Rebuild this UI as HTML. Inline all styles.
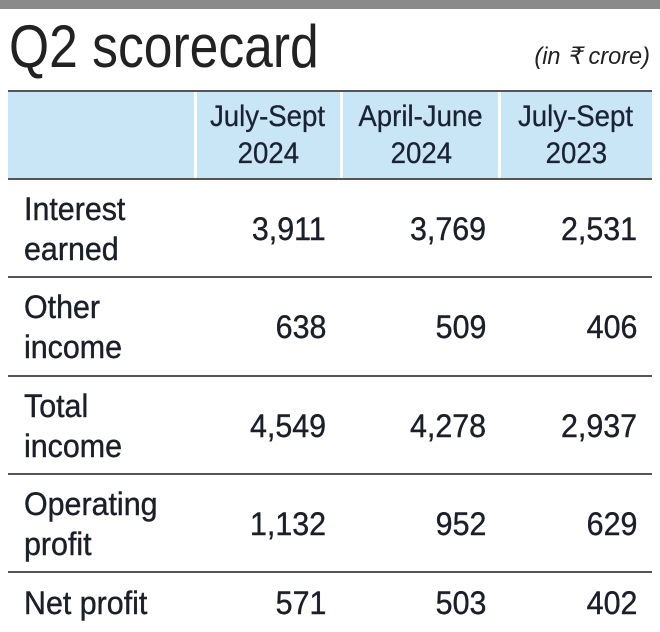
<!DOCTYPE html>
<html><head><meta charset="utf-8"><style>
body{margin:0;width:660px;height:632px;background:#fff;position:relative;overflow:hidden;font-family:"Liberation Sans",sans-serif;color:#1b1f2a}
.a{position:absolute}
.sx{display:inline-block;transform:scaleX(0.95);white-space:nowrap}
.hline{position:absolute;left:8px;width:644px;height:2px;background:#555}
.lbl{position:absolute;left:24px;font-size:32px;line-height:40px;-webkit-text-stroke:0.4px #1b1f2a}
.lbl .sx{transform-origin:left center}
.num{position:absolute;font-size:32px;line-height:40px;text-align:right;width:150px;-webkit-text-stroke:0.4px #1b1f2a}
.num .sx{transform-origin:right center}
.hd{position:absolute;top:98px;font-size:30px;line-height:37px;text-align:center;width:160px;color:#1a2233;-webkit-text-stroke:0.3px #1a2233}
.hd .sx{transform:scaleX(0.92)}
</style></head><body>
<div class="a" style="left:0;top:0;width:660px;height:9px;background:#8a8a8a"></div>
<div class="a" style="left:9px;top:14px;font-size:60px;line-height:66px;color:#222;-webkit-text-stroke:1.6px #fff;paint-order:stroke fill"><span class="sx" style="transform:scaleX(0.86);transform-origin:left center;-webkit-text-stroke:1.6px #fff">Q2 scorecard</span></div>
<div class="a" style="right:10px;top:42px;font-size:24px;font-style:italic;color:#222"><span class="sx" style="transform:scaleX(0.98);transform-origin:right center">(in ₹ crore)</span></div>
<div class="a" style="left:8px;top:90px;width:644px;height:89px;background:#c9e6f7;border-top:2px solid #555;box-sizing:border-box"></div>
<div class="a" style="left:194px;top:92px;width:3px;height:87px;background:#fff"></div>
<div class="a" style="left:340px;top:92px;width:3px;height:87px;background:#fff"></div>
<div class="a" style="left:498px;top:92px;width:3px;height:87px;background:#fff"></div>
<div class="hd" style="left:188px"><span class="sx">July-Sept</span><br><span class="sx">2024</span></div>
<div class="hd" style="left:341px"><span class="sx">April-June</span><br><span class="sx">2024</span></div>
<div class="hd" style="left:496px"><span class="sx">July-Sept</span><br><span class="sx">2023</span></div>
<div class="hline" style="top:178px"></div>
<div class="hline" style="top:276px"></div>
<div class="hline" style="top:375px"></div>
<div class="hline" style="top:473px"></div>
<div class="hline" style="top:571px"></div>

<div class="lbl" style="top:189px"><span class="sx">Interest</span><br><span class="sx">earned</span></div>
<div class="num" style="left:176px;top:209px"><span class="sx">3,911</span></div>
<div class="num" style="left:336px;top:209px"><span class="sx">3,769</span></div>
<div class="num" style="left:487px;top:209px"><span class="sx">2,531</span></div>

<div class="lbl" style="top:287px"><span class="sx">Other</span><br><span class="sx">income</span></div>
<div class="num" style="left:176px;top:307px"><span class="sx">638</span></div>
<div class="num" style="left:336px;top:307px"><span class="sx">509</span></div>
<div class="num" style="left:487px;top:307px"><span class="sx">406</span></div>

<div class="lbl" style="top:386px"><span class="sx">Total</span><br><span class="sx">income</span></div>
<div class="num" style="left:176px;top:406px"><span class="sx">4,549</span></div>
<div class="num" style="left:336px;top:406px"><span class="sx">4,278</span></div>
<div class="num" style="left:487px;top:406px"><span class="sx">2,937</span></div>

<div class="lbl" style="top:484px"><span class="sx">Operating</span><br><span class="sx">profit</span></div>
<div class="num" style="left:176px;top:504px"><span class="sx">1,132</span></div>
<div class="num" style="left:336px;top:504px"><span class="sx">952</span></div>
<div class="num" style="left:487px;top:504px"><span class="sx">629</span></div>

<div class="lbl" style="top:583px"><span class="sx">Net profit</span></div>
<div class="num" style="left:176px;top:583px"><span class="sx">571</span></div>
<div class="num" style="left:336px;top:583px"><span class="sx">503</span></div>
<div class="num" style="left:487px;top:583px"><span class="sx">402</span></div>
</body></html>
